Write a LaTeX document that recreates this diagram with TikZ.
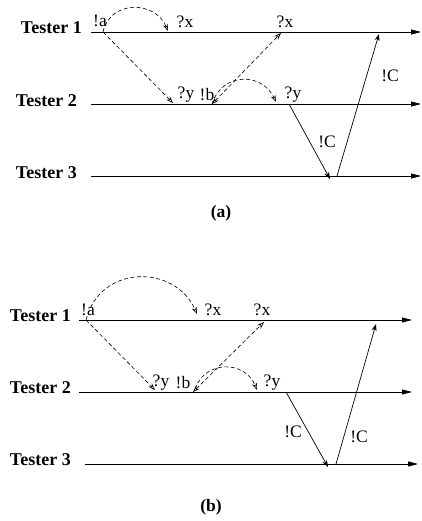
\documentclass[tikz,border=0pt]{standalone}
\usepackage{fontspec}
\setmainfont{Liberation Serif}
\usetikzlibrary{arrows.meta}
\begin{document}
\begin{tikzpicture}[x=1pt,y=-1pt,
  tline/.style={line width=0.8pt,-{Triangle[length=10pt,width=5pt]}},
  msg/.style={line width=0.7pt,-{Stealth[length=7pt,width=5pt]}},
  dmsg/.style={line width=0.6pt,dash pattern=on 4pt off 2.5pt,-{Stealth[open,length=7pt,width=5pt]}},
  ddmsg/.style={line width=0.6pt,dash pattern=on 4pt off 2.5pt,{Stealth[open,length=7pt,width=5pt]}-{Stealth[open,length=7pt,width=5pt]}},
  tname/.style={font=\fontsize{18}{18}\selectfont\bfseries,anchor=east,inner sep=0pt},
  lab/.style={font=\fontsize{17.5}{17.5}\selectfont,inner sep=0pt},
  captext/.style={font=\fontsize{17.5}{17.5}\selectfont\bfseries,inner sep=0pt}]
\useasboundingbox (0,0) rectangle (422,521);
% ---------- (a) ----------
\node[tname] (ta1) at (82,28) {Tester 1};
\node[tname] (ta2) at (77,101) {Tester 2};
\node[tname] (ta3) at (77,173) {Tester 3};
\coordinate (a1s) at (91,32); \coordinate (a1e) at (421,32);
\coordinate (a2s) at (91,104); \coordinate (a2e) at (421,104);
\coordinate (a3s) at (91,176); \coordinate (a3e) at (421,176);
\draw[tline] (a1s) -- (a1e);
\draw[tline] (a2s) -- (a2e);
\draw[tline] (a3s) -- (a3e);
\coordinate (aA) at (103,32);
\coordinate (aX1) at (168,31);
\coordinate (aY1) at (173,103);
\coordinate (aB) at (212,104);
\coordinate (aX2) at (281,33);
\coordinate (aY2) at (276,102);
\coordinate (aC1) at (289,104);
\coordinate (aC2) at (330,179);
\coordinate (aC3) at (337,176);
\coordinate (aC4) at (379,34);
\draw[dmsg] (aA) .. controls (110,0) and (155,0) .. (aX1);
\draw[dmsg] (aA) -- (aY1);
\draw[ddmsg] (aB) -- (aX2);
\draw[dmsg] (aB) .. controls (222,72) and (262,72) .. (aY2);
\draw[msg] (aC1) -- (aC2);
\draw[msg] (aC3) -- (aC4);
\node[lab] (la1) at (100,21) {!a};
\node[lab] (la2) at (185,22) {?x};
\node[lab] (la3) at (285,22) {?x};
\node[lab] (la4) at (186,95) {?y};
\node[lab] (la5) at (207,95) {!b};
\node[lab] (la6) at (293,95) {?y};
\node[lab] (la7) at (327,142) {!C};
\node[lab] (la8) at (390,76) {!C};
\node[captext] (capa) at (221,213) {(a)};
% ---------- (b) ----------
\node[tname] (tb1) at (71,316) {Tester 1};
\node[tname] (tb2) at (71,388) {Tester 2};
\node[tname] (tb3) at (71,460) {Tester 3};
\coordinate (b1s) at (79,320); \coordinate (b1e) at (412,320);
\coordinate (b2s) at (79,392); \coordinate (b2e) at (412,392);
\coordinate (b3s) at (85,464); \coordinate (b3e) at (418,464);
\draw[tline] (b1s) -- (b1e);
\draw[tline] (b2s) -- (b2e);
\draw[tline] (b3s) -- (b3e);
\coordinate (bA) at (86,320);
\coordinate (bX1) at (197,314);
\coordinate (bY1) at (155,390);
\coordinate (bB) at (193,392);
\coordinate (bX2) at (264,322);
\coordinate (bY2) at (257,390);
\coordinate (bC1) at (286,392);
\coordinate (bC2) at (328,467);
\coordinate (bC3) at (336,464);
\coordinate (bC4) at (376,324);
\draw[dmsg] (bA) .. controls (100,264) and (175,264) .. (bX1);
\draw[dmsg] (bA) -- (bY1);
\draw[ddmsg] (bB) -- (bX2);
\draw[dmsg] (195,389) .. controls (205,360) and (245,360) .. (bY2);
\draw[msg] (bC1) -- (bC2);
\draw[msg] (bC3) -- (bC4);
\node[lab] (lb1) at (88,310) {!a};
\node[lab] (lb2) at (213,310) {?x};
\node[lab] (lb3) at (262,310) {?x};
\node[lab] (lb4) at (161,383) {?y};
\node[lab] (lb5) at (183,383) {!b};
\node[lab] (lb6) at (272,383) {?y};
\node[lab] (lb7) at (293,432) {!C};
\node[lab] (lb8) at (359,437) {!C};
\node[captext] (capb) at (211,507) {(b)};
\end{tikzpicture}
\end{document}
